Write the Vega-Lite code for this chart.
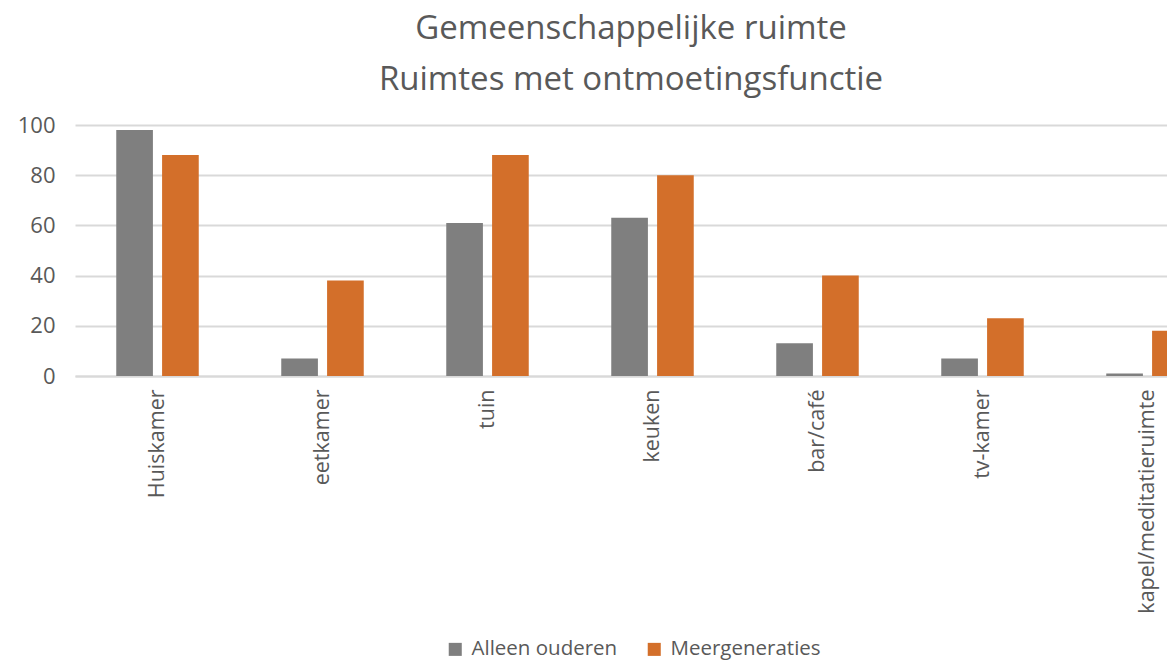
{
  "$schema": "https://vega.github.io/schema/vega-lite/v6.json",
  "width": 1092,
  "height": 251,
  "autosize": {"type": "none"},
  "padding": {"left": 75, "top": 125, "right": 0, "bottom": 289},
  "background": "white",
  "title": {
    "text": ["Gemeenschappelijke ruimte", "Ruimtes met ontmoetingsfunctie"],
    "font": "Open Sans",
    "fontSize": 33,
    "fontWeight": "normal",
    "color": "#595959",
    "anchor": "middle",
    "dx": 10,
    "offset": 17,
    "lineHeight": 51
  },
  "data": {
    "values": [
      {"ruimte": "Huiskamer", "groep": "Alleen ouderen", "waarde": 98},
      {"ruimte": "Huiskamer", "groep": "Meergeneraties", "waarde": 88},
      {"ruimte": "eetkamer", "groep": "Alleen ouderen", "waarde": 7},
      {"ruimte": "eetkamer", "groep": "Meergeneraties", "waarde": 38},
      {"ruimte": "tuin", "groep": "Alleen ouderen", "waarde": 61},
      {"ruimte": "tuin", "groep": "Meergeneraties", "waarde": 88},
      {"ruimte": "keuken", "groep": "Alleen ouderen", "waarde": 63},
      {"ruimte": "keuken", "groep": "Meergeneraties", "waarde": 80},
      {"ruimte": "bar/café", "groep": "Alleen ouderen", "waarde": 13},
      {"ruimte": "bar/café", "groep": "Meergeneraties", "waarde": 40},
      {"ruimte": "tv-kamer", "groep": "Alleen ouderen", "waarde": 7},
      {"ruimte": "tv-kamer", "groep": "Meergeneraties", "waarde": 23},
      {"ruimte": "kapel/meditatieruimte", "groep": "Alleen ouderen", "waarde": 1},
      {"ruimte": "kapel/meditatieruimte", "groep": "Meergeneraties", "waarde": 18}
    ]
  },
  "mark": {"type": "bar", "clip": false},
  "encoding": {
    "x": {
      "field": "ruimte",
      "type": "nominal",
      "sort": null,
      "title": null,
      "scale": {"range": [0, 1155], "paddingInner": 0.5, "paddingOuter": 0.25},
      "axis": {
        "labelAngle": -90,
        "labelAlign": "right",
        "labelBaseline": "middle",
        "labelFont": "Open Sans",
        "labelFontSize": 21.5,
        "labelColor": "#595959",
        "labelPadding": 13,
        "labelLimit": 400,
        "ticks": false,
        "domainColor": "#D9D9D9",
        "domainWidth": 2,
        "grid": false
      }
    },
    "xOffset": {
      "field": "groep",
      "type": "nominal",
      "scale": {"paddingInner": 0.2, "paddingOuter": 0}
    },
    "y": {
      "field": "waarde",
      "type": "quantitative",
      "title": null,
      "scale": {"domain": [0, 100], "nice": false},
      "axis": {
        "values": [0, 20, 40, 60, 80, 100],
        "labelFont": "Open Sans",
        "labelFontSize": 22,
        "labelColor": "#595959",
        "labelPadding": 20,
        "ticks": false,
        "domain": false,
        "grid": true,
        "gridColor": "#D9D9D9",
        "gridWidth": 2
      }
    },
    "color": {
      "field": "groep",
      "type": "nominal",
      "title": null,
      "scale": {"domain": ["Alleen ouderen", "Meergeneraties"], "range": ["#7F7F7F", "#D36F2A"]},
      "legend": {
        "orient": "none",
        "legendX": 370,
        "legendY": 514,
        "direction": "horizontal",
        "symbolType": "square",
        "symbolSize": 170,
        "symbolStrokeWidth": 0,
        "labelFont": "Open Sans",
        "labelFontSize": 20.5,
        "labelColor": "#595959",
        "columnPadding": 26,
        "labelOffset": 6
      }
    }
  },
  "config": {"view": {"stroke": null}}
}
